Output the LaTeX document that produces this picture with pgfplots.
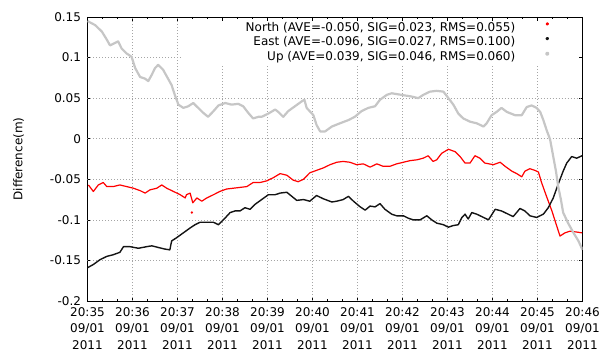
\documentclass[border=0pt]{standalone}
\usepackage{fontspec}
\setmainfont{DejaVu Sans}
\usepackage{pgfplots}
\pgfplotsset{compat=1.18}
\usepackage{pgfplotstable}

\definecolor{upgray}{RGB}{198,198,198}
\definecolor{gridgray}{RGB}{165,165,165}
\definecolor{eastblack}{RGB}{20,20,20}

% time in minutes after 20:35, difference in metres
\pgfplotstableread{
t v
0.02 -0.057
0.13 -0.065
0.24 -0.057
0.35 -0.054
0.43 -0.059
0.57 -0.059
0.72 -0.057
0.87 -0.059
1.02 -0.061
1.17 -0.064
1.28 -0.067
1.39 -0.063
1.54 -0.061
1.65 -0.057
1.76 -0.061
1.91 -0.065
2.06 -0.069
2.17 -0.073
2.20 -0.069
2.28 -0.067
2.34 -0.079
2.43 -0.073
2.54 -0.077
2.65 -0.073
2.80 -0.069
2.94 -0.065
3.09 -0.062
3.24 -0.061
3.39 -0.060
3.54 -0.059
3.68 -0.054
3.83 -0.054
3.98 -0.052
4.13 -0.048
4.28 -0.043
4.43 -0.045
4.57 -0.051
4.68 -0.053
4.80 -0.050
4.94 -0.042
5.09 -0.039
5.24 -0.036
5.39 -0.032
5.54 -0.029
5.68 -0.028
5.83 -0.029
5.98 -0.032
6.13 -0.031
6.28 -0.035
6.43 -0.031
6.57 -0.034
6.72 -0.034
6.87 -0.031
7.02 -0.029
7.17 -0.027
7.32 -0.026
7.46 -0.024
7.57 -0.021
7.68 -0.028
7.76 -0.026
7.87 -0.018
8.02 -0.013
8.17 -0.016
8.28 -0.022
8.39 -0.030
8.50 -0.030
8.61 -0.021
8.72 -0.024
8.83 -0.030
9.02 -0.032
9.17 -0.029
9.28 -0.034
9.43 -0.040
9.54 -0.043
9.65 -0.047
9.72 -0.040
9.83 -0.037
9.94 -0.039
10.02 -0.041
10.09 -0.054
10.20 -0.071
10.32 -0.089
10.43 -0.108
10.50 -0.120
10.61 -0.116
10.72 -0.114
10.87 -0.115
10.99 -0.116
}\north

\pgfplotstableread{
t v
2.32 -0.091
}\northout

\pgfplotstableread{
t v
0.00 -0.159
0.13 -0.155
0.28 -0.149
0.43 -0.145
0.57 -0.143
0.72 -0.140
0.80 -0.133
0.94 -0.133
1.13 -0.135
1.32 -0.133
1.43 -0.132
1.57 -0.134
1.72 -0.136
1.83 -0.137
1.87 -0.126
1.98 -0.122
2.13 -0.116
2.28 -0.110
2.39 -0.106
2.50 -0.103
2.65 -0.103
2.80 -0.103
2.91 -0.106
3.02 -0.100
3.17 -0.091
3.28 -0.089
3.39 -0.089
3.50 -0.085
3.61 -0.087
3.72 -0.081
3.87 -0.075
4.02 -0.069
4.17 -0.069
4.28 -0.067
4.43 -0.066
4.54 -0.071
4.65 -0.076
4.80 -0.075
4.94 -0.077
5.09 -0.070
5.24 -0.074
5.43 -0.078
5.54 -0.077
5.68 -0.075
5.80 -0.071
5.91 -0.077
6.06 -0.084
6.17 -0.088
6.28 -0.083
6.39 -0.084
6.50 -0.080
6.61 -0.087
6.76 -0.093
6.87 -0.095
7.02 -0.095
7.13 -0.098
7.24 -0.100
7.39 -0.100
7.54 -0.095
7.65 -0.100
7.76 -0.104
7.91 -0.106
8.02 -0.109
8.13 -0.107
8.24 -0.106
8.32 -0.097
8.39 -0.093
8.46 -0.099
8.54 -0.091
8.65 -0.093
8.80 -0.097
8.91 -0.100
9.06 -0.087
9.20 -0.089
9.35 -0.093
9.46 -0.096
9.61 -0.086
9.72 -0.089
9.83 -0.095
9.98 -0.097
10.13 -0.093
10.24 -0.085
10.35 -0.073
10.46 -0.056
10.57 -0.040
10.65 -0.030
10.76 -0.022
10.87 -0.024
10.99 -0.021
}\east

\pgfplotstableread{
t v
0.00 0.145
0.17 0.140
0.32 0.132
0.43 0.122
0.50 0.115
0.61 0.118
0.68 0.120
0.76 0.111
0.87 0.105
0.98 0.101
1.06 0.087
1.17 0.076
1.28 0.074
1.35 0.071
1.43 0.079
1.50 0.087
1.57 0.091
1.68 0.085
1.80 0.073
1.87 0.066
1.94 0.054
2.02 0.042
2.13 0.038
2.24 0.040
2.35 0.044
2.46 0.038
2.57 0.032
2.68 0.027
2.80 0.034
2.91 0.041
3.06 0.044
3.20 0.042
3.35 0.043
3.46 0.040
3.57 0.032
3.68 0.025
3.80 0.027
3.87 0.027
4.02 0.031
4.17 0.036
4.24 0.033
4.35 0.027
4.46 0.034
4.61 0.040
4.76 0.046
4.82 0.048
4.87 0.038
5.02 0.029
5.09 0.017
5.17 0.009
5.28 0.009
5.43 0.015
5.61 0.019
5.80 0.023
5.94 0.027
6.09 0.034
6.24 0.038
6.39 0.040
6.50 0.048
6.65 0.054
6.76 0.056
6.98 0.054
7.20 0.052
7.35 0.050
7.46 0.054
7.61 0.058
7.76 0.059
7.91 0.058
8.02 0.050
8.13 0.042
8.24 0.031
8.35 0.025
8.50 0.021
8.65 0.019
8.80 0.015
8.87 0.019
8.98 0.029
9.09 0.033
9.20 0.038
9.32 0.033
9.50 0.029
9.65 0.029
9.76 0.039
9.87 0.041
9.98 0.038
10.06 0.033
10.13 0.023
10.20 0.011
10.28 -0.001
10.35 -0.022
10.41 -0.040
10.46 -0.059
10.52 -0.075
10.57 -0.091
10.68 -0.104
10.80 -0.116
10.91 -0.126
11.00 -0.137
}\up

\tikzset{gridline/.style={gridgray, line width=0.6bp, dash pattern=on 1bp off 2bp}}

\begin{document}
\begin{tikzpicture}[font=\fontsize{12bp}{16.5bp}\selectfont]
\useasboundingbox (-87.5bp,-50bp) rectangle (522.5bp,301bp);
\begin{axis}[
  scale only axis,
  width=495bp, height=284bp,
  xmin=0, xmax=11, ymin=-0.2, ymax=0.15,
  axis line style={line width=0.8bp},
  xtick={0,...,11},
  xticklabels={{20:35\\09/01\\2011},{20:36\\09/01\\2011},{20:37\\09/01\\2011},
    {20:38\\09/01\\2011},{20:39\\09/01\\2011},{20:40\\09/01\\2011},
    {20:41\\09/01\\2011},{20:42\\09/01\\2011},{20:43\\09/01\\2011},
    {20:44\\09/01\\2011},{20:45\\09/01\\2011},{20:46\\09/01\\2011}},
  minor x tick num=2,
  ytick={-0.2,-0.15,-0.1,-0.05,0,0.05,0.1,0.15},
  yticklabels={-0.2,-0.15,-0.1,-0.05,0,0.05,0.1,0.15},
  tick align=inside,
  major tick length=4bp, minor tick length=2.5bp,
  tick style={line width=0.6bp, black},
  xticklabel style={align=center, font=\fontsize{12bp}{16.5bp}\selectfont, yshift=-3bp},
  yticklabel style={font=\fontsize{12bp}{14bp}\selectfont, xshift=-3bp},
  ylabel={Difference(m)},
  every axis y label/.style={at={(axis description cs:-0.1394,0.5)}, rotate=90,
    anchor=center, font=\fontsize{12bp}{14bp}\selectfont},
  legend style={at={(rel axis cs:1,1)}, anchor=north east, yshift=-5bp,
    draw=none, fill=none, inner sep=0pt, row sep=2.6bp,
    font=\fontsize{12bp}{14bp}\selectfont,
    nodes={inner sep=0pt, text height=9bp, text depth=3bp}},
  legend cell align=right,
  legend plot pos=right,
  legend image code/.code={\path[draw=none, fill=none] (-3bp,0bp) -- (64bp,0bp);
    \fill (29bp,4.3bp) circle (1.1bp);},
]
% dotted grid, kept clear of the key area
\pgfplotsinvokeforeach{1,2}{\draw[gridline] (axis cs:#1,-0.2) -- (axis cs:#1,0.15);}
\pgfplotsinvokeforeach{3,...,10}{\draw[gridline] (axis cs:#1,-0.2) -- (axis cs:#1,0.0909);}
\pgfplotsinvokeforeach{-0.15,-0.1,-0.05,0,0.05}{\draw[gridline] (axis cs:0,#1) -- (axis cs:11,#1);}
\draw[gridline] (axis cs:0,0.1) -- (axis cs:2.12,0.1);

\addplot[color=red, line width=1.2bp, line join=round] table {\north};
\addlegendentry{North (AVE=-0.050, SIG=0.023, RMS=0.055)}
\addplot[color=eastblack, line width=1.4bp, line join=round] table {\east};
\addlegendentry{East (AVE=-0.096, SIG=0.027, RMS=0.100)}
\addplot[color=upgray, line width=2.2bp, line join=round] table {\up};
\addlegendentry{Up (AVE=0.039, SIG=0.046, RMS=0.060)}
\addplot[color=red, only marks, mark=*, mark size=1bp, forget plot] table {\northout};
\end{axis}
\end{tikzpicture}
\end{document}
